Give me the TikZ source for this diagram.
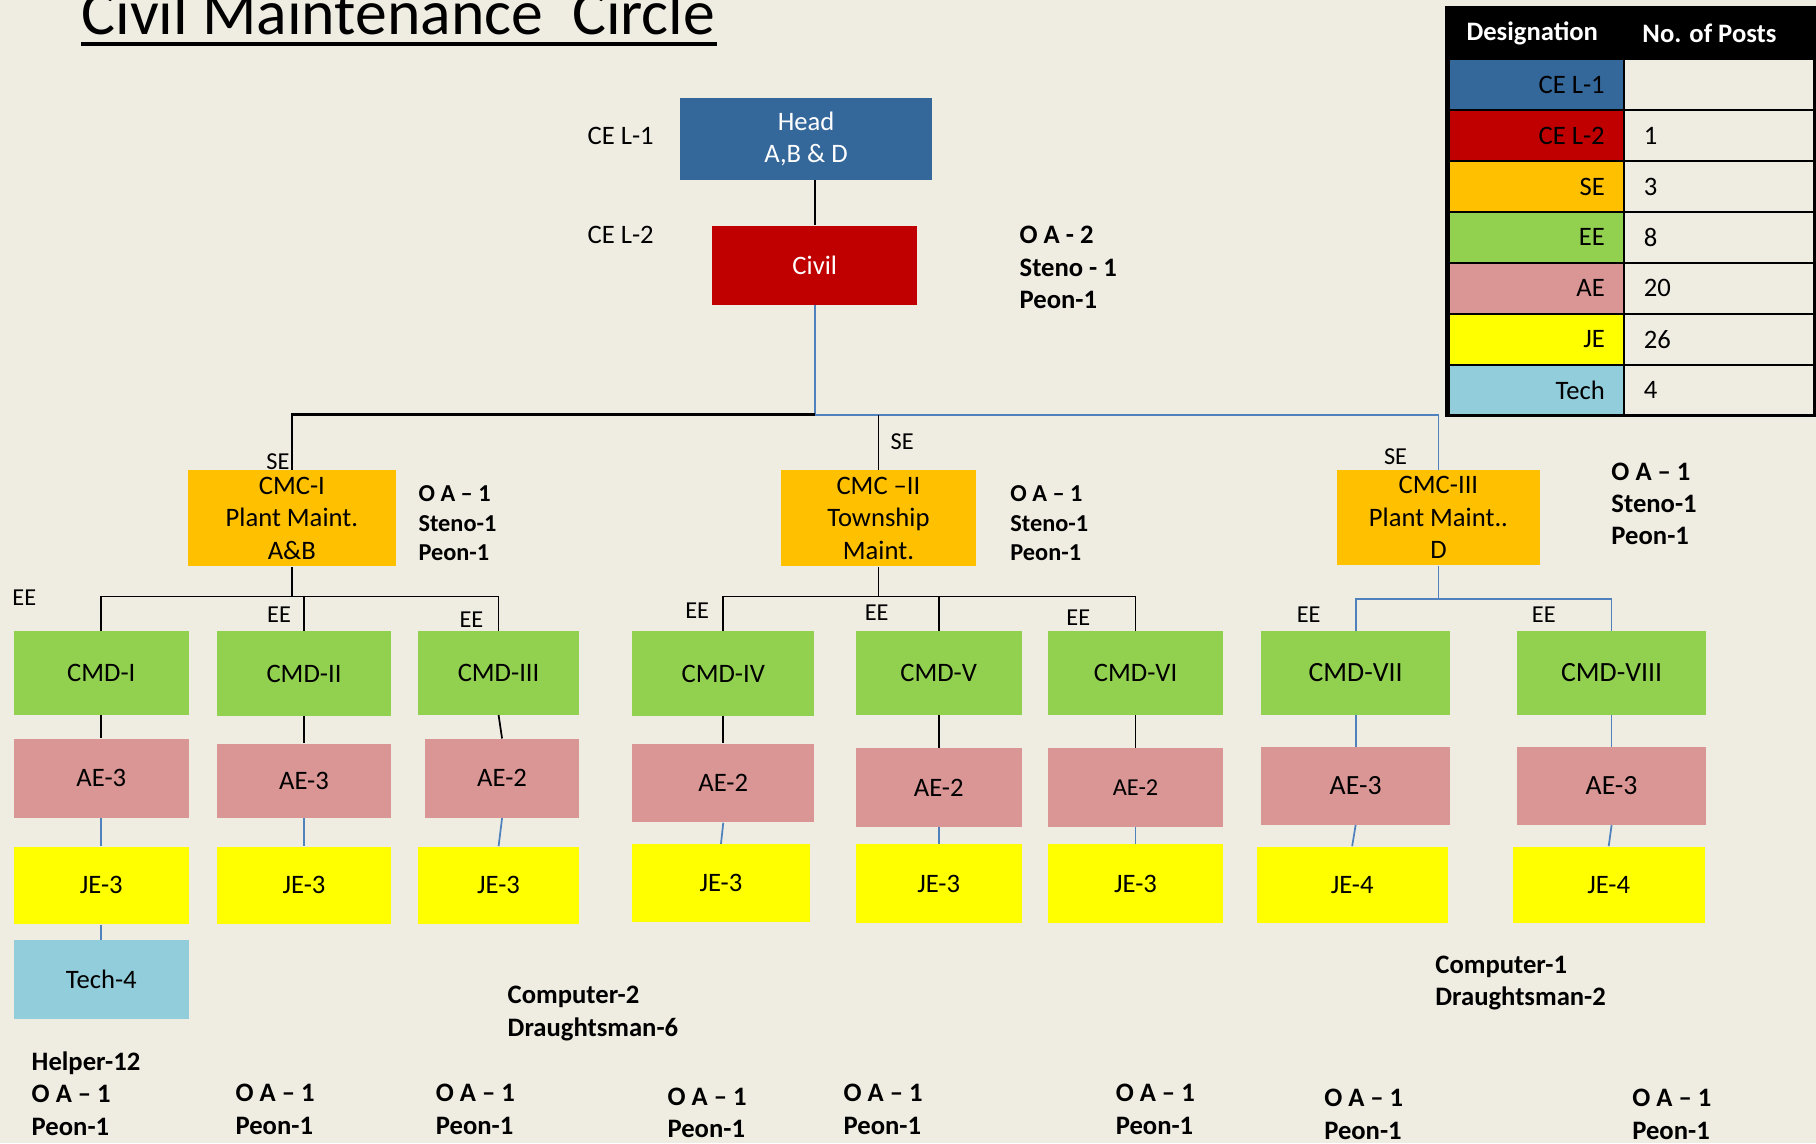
\documentclass[tikz,border=0pt]{standalone}
\usepackage{fontspec}
\setmainfont{Carlito}
\definecolor{bg}{RGB}{239,236,226}
\definecolor{cblue}{RGB}{52,103,154}
\definecolor{cred}{RGB}{192,0,0}
\definecolor{corange}{RGB}{255,192,0}
\definecolor{cgreen}{RGB}{146,208,80}
\definecolor{cpink}{RGB}{218,150,148}
\definecolor{cyellow}{RGB}{255,255,0}
\definecolor{clblue}{RGB}{146,205,220}
\definecolor{lblue}{RGB}{79,129,189}
\newcommand\bx[8][]{%
  \pgfmathsetmacro\bxcx{(#3+#5)/2}%
  \pgfmathsetmacro\bxcy{(#4+#6)/2}%
  \pgfmathsetmacro\bxw{(#5-#3)*0.5}%
  \pgfmathsetmacro\bxh{(#6-#4)*0.5}%
  \node[boxst, fill=#7, minimum width=\bxw pt, minimum height=\bxh pt, #1] (#2) at (\bxcx,\bxcy) {#8};}
\begin{document}
\begin{tikzpicture}[x=0.5pt, y=-0.5pt,
  boxst/.style={rectangle, inner sep=0pt, align=center, font=\fontsize{11.5}{14}\selectfont},
  big/.style={font=\fontsize{12}{14.5}\selectfont},
  blk/.style={draw=black, line width=0.75pt},
  blu/.style={draw=lblue, line width=0.75pt},
  bus/.style={draw=black, line width=1pt},
  lbl/.style={inner sep=0pt, font=\fontsize{10.5}{12.5}\selectfont},
  cel/.style={inner sep=0pt, anchor=west, font=\fontsize{11.5}{14}\selectfont},
  side/.style={inner sep=0pt, anchor=west, align=left, font=\bfseries\fontsize{10.5}{12.75}\selectfont},
  bot/.style={inner sep=0pt, anchor=west, align=left, font=\bfseries\fontsize{11.5}{14}\selectfont},
  tcell/.style={draw=black, line width=1pt},
  thead/.style={inner sep=0pt, text=white, font=\bfseries\fontsize{11.5}{14}\selectfont},
  tlab/.style={inner sep=0pt, font=\fontsize{11.5}{14}\selectfont}]
\useasboundingbox (0,0) rectangle (1568,987);
\fill[bg] (0,0) rectangle (1568,987);

% title
\node[inner sep=0pt, anchor=base west, font=\fontsize{27.5}{33}\selectfont] (title) at (70,30) {Civil Maintenance\ \ Circle};
\draw[line width=1.5pt] (70,38) -- (619,38);

% top boxes
\bx[text=white]{head}{587}{85}{805}{155}{cblue}{Head\\A,B \& D}
\bx[text=white]{civil}{615}{195}{792}{263}{cred}{Civil}
\node[cel] (cel1) at (507,117) {CE L-1};
\node[cel] (cel2) at (507,203) {CE L-2};
\node[bot] (civside) at (880,231) {O A - 2\\Steno - 1\\Peon-1};

% CMC level
\bx{cmc1}{162}{406}{342}{489}{corange}{CMC-I\\Plant Maint.\\A\&B}
\bx{cmc2}{674}{406}{843}{489}{corange}{CMC –II\\Township\\Maint.}
\bx{cmc3}{1154}{406}{1330}{488}{corange}{CMC-III\\Plant Maint..\\D}
\node[side] (s1) at (361,452) {O A – 1\\Steno-1\\Peon-1};
\node[side] (s2) at (872,452) {O A – 1\\Steno-1\\Peon-1};
\node[bot] (s3) at (1391,435) {O A – 1\\Steno-1\\Peon-1};
\node[lbl] (se1) at (240,399) {SE};
\node[lbl] (se2) at (779,381) {SE};
\node[lbl] (se3) at (1205,394) {SE};

% CMD level
\bx{cmd1}{12}{545}{163}{617}{cgreen}{CMD-I}
\bx{cmd2}{187}{545}{338}{618}{cgreen}{CMD-II}
\bx{cmd3}{361}{545}{500}{617}{cgreen}{CMD-III}
\bx{cmd4}{546}{545}{703}{618}{cgreen}{CMD-IV}
\bx{cmd5}{739}{545}{882}{617}{cgreen}{CMD-V}
\bx{cmd6}{905}{545}{1056}{617}{cgreen}{CMD-VI}
\bx[big]{cmd7}{1089}{545}{1252}{617}{cgreen}{CMD-VII}
\bx[big]{cmd8}{1310}{545}{1473}{617}{cgreen}{CMD-VIII}
\node[lbl] (ee1) at (21,516) {EE};
\node[lbl] (ee2) at (241,531) {EE};
\node[lbl] (ee3) at (407,535) {EE};
\node[lbl] (ee4) at (602,527) {EE};
\node[lbl] (ee5) at (757,529) {EE};
\node[lbl] (ee6) at (931,533) {EE};
\node[lbl] (ee7) at (1130,531) {EE};
\node[lbl] (ee8) at (1333,531) {EE};

% AE level
\bx{ae1}{12}{638}{163}{706}{cpink}{AE-3}
\bx{ae2}{187}{642}{338}{706}{cpink}{AE-3}
\bx{ae3}{367}{638}{500}{706}{cpink}{AE-2}
\bx{ae4}{546}{642}{703}{710}{cpink}{AE-2}
\bx{ae5}{739}{646}{882}{714}{cpink}{AE-2}
\bx[font=\fontsize{10.5}{12.5}\selectfont]{ae6}{905}{646}{1056}{714}{cpink}{AE-2}
\bx[big]{ae7}{1089}{645}{1252}{712}{cpink}{AE-3}
\bx[big]{ae8}{1310}{645}{1473}{712}{cpink}{AE-3}

% JE level
\bx{je1}{12}{731}{163}{798}{cyellow}{JE-3}
\bx{je2}{187}{731}{338}{798}{cyellow}{JE-3}
\bx{je3}{361}{731}{500}{798}{cyellow}{JE-3}
\bx{je4}{546}{729}{699}{796}{cyellow}{JE-3}
\bx{je5}{739}{729}{882}{797}{cyellow}{JE-3}
\bx{je6}{905}{729}{1056}{797}{cyellow}{JE-3}
\bx{je7}{1085}{731}{1250}{797}{cyellow}{JE-4}
\bx{je8}{1306}{731}{1472}{797}{cyellow}{JE-4}
\bx{tech}{12}{812}{163}{880}{clblue}{Tech-4}

% bottom labels
\node[bot] (comp2) at (438,875) {Computer-2\\Draughtsman-6};
\node[bot] (comp1) at (1239,849) {Computer-1\\Draughtsman-2};
\node[bot] (b1) at (27,944) {Helper-12\\O A – 1\\Peon-1};
\node[bot] (b2) at (203,958) {O A – 1\\Peon-1};
\node[bot] (b3) at (376,958) {O A – 1\\Peon-1};
\node[bot] (b4) at (576,961) {O A – 1\\Peon-1};
\node[bot] (b5) at (728,958) {O A – 1\\Peon-1};
\node[bot] (b6) at (963,958) {O A – 1\\Peon-1};
\node[bot] (b7) at (1143,962) {O A – 1\\Peon-1};
\node[bot] (b8) at (1409,962) {O A – 1\\Peon-1};

% connectors
\coordinate (j0) at (703.5,358);
\coordinate (k1) at (252,515);
\coordinate (k2) at (758.5,515);
\coordinate (k3) at (1242,517);
\draw[blk] (civil.north |- head.south) -- (civil.north);
\draw[blu] (civil.south) -- (j0);
\draw[blu] (j0) -| (cmc3.north);
\draw[bus] (j0) -| (cmc1.north);
\draw[blk] (cmc2.north) -- (cmc2.north |- j0);

\draw[blk] (cmc1.south) -- (k1);
\draw[blk] (k1) -| (cmd1.north);
\draw[blk] (k1) -| (cmd3.north);
\draw[blk] (cmd2.north) -- (cmd2.north |- k1);

\draw[blk] (cmc2.south) -- (k2);
\draw[blk] (k2) -| (cmd4.north);
\draw[blk] (k2) -| (cmd6.north);
\draw[blk] (cmd5.north) -- (cmd5.north |- k2);

\draw[blu] (cmc3.south) -- (k3);
\draw[blu] (k3) -| (cmd7.north);
\draw[blu] (k3) -| (cmd8.north);

\foreach \i in {1,...,6} {\draw[blk] (cmd\i.south) -- (ae\i.north);}
\foreach \i in {7,8} {\draw[blu] (cmd\i.south) -- (ae\i.north);}
\foreach \i in {1,...,8} {\draw[blu] (ae\i.south) -- (je\i.north);}
\draw[blu] (je1.south) -- (tech.north);

% table
\fill[black] (1249,6) rectangle (1568,51);
\node[thead] (th1) at (1323,29) {Designation};
\node[thead] (th2) at (1476,29) {No. of Posts};
\foreach \r/\c/\t/\n in {0/cblue/CE L-1/, 1/cred/CE L-2/1, 2/corange/SE/3, 3/cgreen/EE/8, 4/cpink/AE/20, 5/cyellow/JE/26, 6/clblue/Tech/4} {
  \pgfmathsetmacro\ytop{51+44*\r}
  \pgfmathsetmacro\ybot{95+44*\r}
  \pgfmathsetmacro\ymid{73+44*\r}
  \filldraw[tcell, fill=\c] (1251,\ytop) rectangle (1402,\ybot);
  \draw[tcell] (1402,\ytop) rectangle (1567,\ybot);
  \node[tlab, anchor=east] (tl\r) at (1386,\ymid) {\t};
  \node[tlab, anchor=west] (tn\r) at (1419,\ymid) {\n};
}
\draw[line width=1.2pt] (1249,6) rectangle (1567,359);
\end{tikzpicture}
\end{document}
